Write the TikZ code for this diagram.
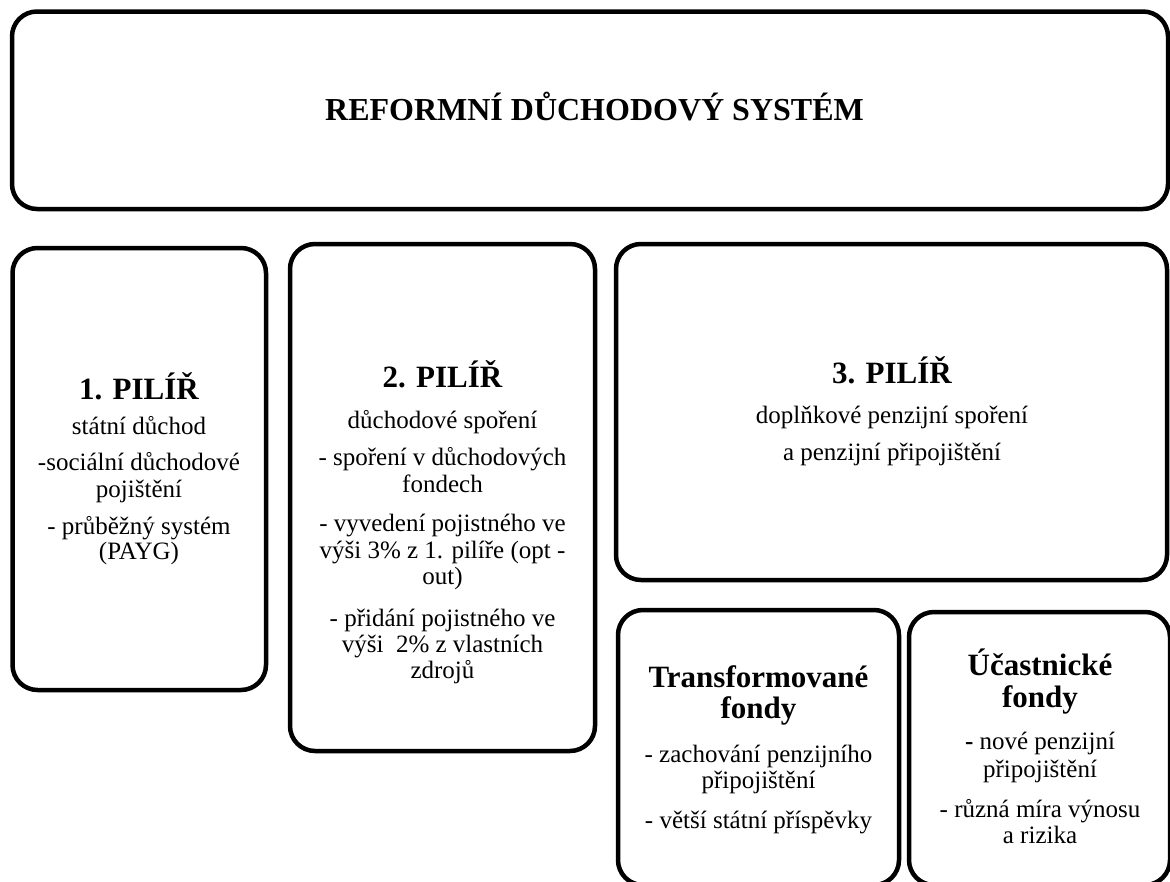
\documentclass[tikz,border=0pt]{standalone}
\usepackage{fontspec}
\setmainfont{Liberation Serif}
\begin{document}
\begin{tikzpicture}[x=1pt,y=-1pt,
  box/.style={draw=black,line width=4.5pt,rounded corners=25pt,rectangle,inner sep=0pt},
  ttl/.style={anchor=base,inner sep=0pt,font=\fontsize{32}{34}\selectfont\bfseries},
  hd/.style={anchor=base,inner sep=0pt,font=\fontsize{31}{32}\selectfont\bfseries},
  bd/.style={anchor=base,inner sep=0pt,font=\fontsize{25}{27}\selectfont}]
\useasboundingbox (0,0) rectangle (1170,881);
\clip (0,0) rectangle (1170,881);
% boxes
\node[box,minimum width=1156pt,minimum height=197.5pt] (top) at (590,110.25) {};
\node[box,minimum width=253.5pt,minimum height=442pt] (p1) at (139.25,469) {};
\node[box,minimum width=305pt,minimum height=507pt] (p2) at (442.5,497.5) {};
\node[box,minimum width=551pt,minimum height=336pt] (p3) at (891.5,412) {};
\node[box,minimum width=281pt,minimum height=275pt] (tf) at (758.5,747.5) {};
\node[box,minimum width=261pt,minimum height=273pt] (uf) at (1039.5,748.5) {};
% title
\node[ttl] (title) at (594.5,120) {REFORMNÍ DŮCHODOVÝ SYSTÉM};
% pillar 1
\node[hd] (p1h) at (139,399) {1. PILÍŘ};
\node[bd] (p1a) at (139,434) {státní důchod};
\node[bd] (p1b) at (139,470) {-sociální důchodové};
\node[bd] (p1c) at (139,497) {pojištění};
\node[bd] (p1d) at (139,534) {- průběžný systém};
\node[bd] (p1e) at (139,559) {(PAYG)};
% pillar 2
\node[hd] (p2h) at (442.5,387) {2. PILÍŘ};
\node[bd] (p2a) at (442.5,428) {důchodové spoření};
\node[bd] (p2b) at (442.5,465) {- spoření v důchodových};
\node[bd] (p2c) at (442.5,492) {fondech};
\node[bd] (p2d) at (442.5,531) {- vyvedení pojistného ve};
\node[bd] (p2e) at (442.5,558) {výši 3\% z 1. pilíře (opt -};
\node[bd] (p2f) at (442.5,584) {out)};
\node[bd] (p2g) at (442.5,626) {- přidání pojistného ve};
\node[bd] (p2i) at (442.5,652) {výši\ \ 2\% z vlastních};
\node[bd] (p2j) at (442.5,678) {zdrojů};
% pillar 3
\node[hd] (p3h) at (892,383) {3. PILÍŘ};
\node[bd] (p3a) at (892,423) {doplňkové penzijní spoření};
\node[bd] (p3b) at (892,460) {a penzijní připojištění};
% transformed funds
\node[hd] (tfh1) at (758.5,687) {Transformované};
\node[hd] (tfh2) at (758.5,718) {fondy};
\node[bd] (tfa) at (758.5,762) {- zachování penzijního};
\node[bd] (tfb) at (758.5,788) {připojištění};
\node[bd] (tfc) at (758.5,828) {- větší státní příspěvky};
% participant funds
\node[hd] (ufh1) at (1040,675) {Účastnické};
\node[hd] (ufh2) at (1040,707) {fondy};
\node[bd] (ufa) at (1040,749) {\textbf{-} nové penzijní};
\node[bd] (ufb) at (1040,777) {připojištění};
\node[bd] (ufc) at (1040,817) {- různá míra výnosu};
\node[bd] (ufd) at (1040,843) {a rizika};
\end{tikzpicture}
\end{document}
